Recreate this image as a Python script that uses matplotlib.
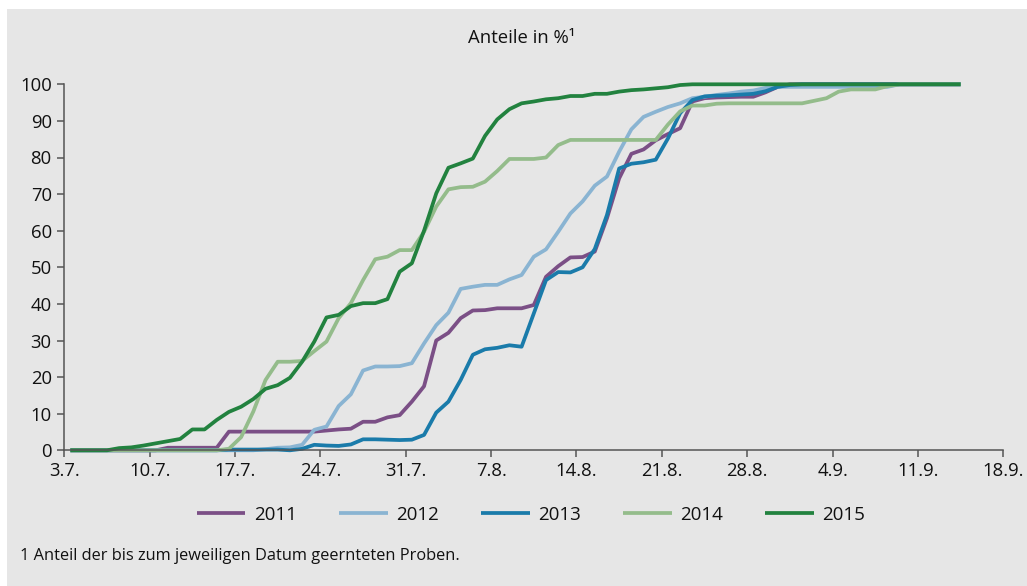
import numpy as np
import matplotlib
matplotlib.use("Agg")
import matplotlib.pyplot as plt
from matplotlib.patches import Rectangle

plt.rcParams['font.family'] = ['Open Sans', 'DejaVu Sans']

# ---- data (share of harvested samples, % ; daily from 3.7.) ----
days = np.arange(74)
tick_days = list(range(0, 78, 7))
tick_labels = ["3.7.", "10.7.", "17.7.", "24.7.", "31.7.", "7.8.", "14.8.",
               "21.8.", "28.8.", "4.9.", "11.9.", "18.9."]
years = ["2011", "2012", "2013", "2014", "2015"]

y2011 = [0, 0, 0, 0, 0, 0, 0, 0, 0.7, 0.7, 0.7, 0.7, 0.7, 5.1, 5.1, 5.1, 5.1, 5.1, 5.1, 5.1,
         5.1, 5.4, 5.7, 5.9, 7.8, 7.8, 9.0, 9.6, 13.3, 17.5, 30.0, 32.1, 36.1, 38.2, 38.3, 38.8,
         38.8, 38.8, 39.7, 47.4, 50.3, 52.7, 52.8, 54.3, 63.4, 74.3, 81.0, 82.2, 84.7, 86.4,
         88.0, 95.3, 96.2, 96.4, 96.5, 96.6, 96.6, 97.8, 99.3, 100, 100, 100, 100, 100, 100,
         100, 100, 100, 100, 100, 100, 100, 100, 100]
y2012 = [0, 0, 0, 0, 0, 0, 0, 0, 0, 0, 0, 0, 0, 0, 0, 0, 0.3, 0.7, 0.8, 1.5,
         5.6, 6.5, 12.1, 15.3, 21.8, 22.9, 22.9, 23.0, 23.8, 29.2, 34.2, 37.6, 44.1, 44.7, 45.2,
         45.2, 46.7, 47.9, 52.9, 54.9, 59.7, 64.7, 68.0, 72.3, 74.8, 81.6, 87.7, 91.1, 92.5,
         93.8, 94.8, 96.2, 96.6, 97.1, 97.5, 98.0, 98.3, 99.0, 99.3, 99.3, 99.3, 99.3, 99.3,
         99.3, 99.3, 99.3, 99.3, 99.3, 100, 100, 100, 100, 100, 100]
y2013 = [0, 0, 0, 0, 0, 0, 0, 0, 0, 0, 0, 0, 0, 0.2, 0.2, 0.2, 0.2, 0.2, 0, 0.4,
         1.5, 1.3, 1.2, 1.6, 3.0, 3.0, 2.9, 2.8, 2.9, 4.2, 10.3, 13.3, 19.2, 26.1, 27.6, 28.0,
         28.7, 28.3, 37.4, 46.5, 48.7, 48.6, 50.0, 55.0, 64.3, 77.0, 78.3, 78.7, 79.4, 85.2,
         92.1, 95.7, 96.7, 96.9, 97.0, 97.2, 97.4, 98.1, 99.3, 99.8, 100, 100, 100, 100, 100,
         100, 100, 100, 100, 100, 100, 100, 100, 100]
y2014 = [0, 0, 0, 0, 0, 0, 0, 0, 0, 0, 0, 0, 0, 0.4, 3.6, 10.6, 19.2, 24.2, 24.2, 24.4,
         27.1, 29.7, 36.1, 40.2, 46.5, 52.2, 52.9, 54.7, 54.7, 59.7, 66.6, 71.3, 71.9, 72.0,
         73.4, 76.3, 79.6, 79.6, 79.6, 80.0, 83.4, 84.8, 84.8, 84.8, 84.8, 84.8, 84.8, 84.8,
         84.8, 89.0, 92.6, 94.2, 94.2, 94.7, 94.8, 94.8, 94.8, 94.8, 94.8, 94.8, 94.8, 95.5,
         96.2, 98.0, 98.6, 98.6, 98.6, 99.5, 100, 100, 100, 100, 100, 100]
y2015 = [0, 0, 0, 0, 0.6, 0.8, 1.3, 1.9, 2.5, 3.1, 5.7, 5.7, 8.3, 10.5, 11.9, 14.0, 16.8,
         17.8, 19.8, 24.2, 29.7, 36.3, 37.0, 39.4, 40.2, 40.2, 41.3, 48.8, 51.1, 60.0, 70.2,
         77.2, 78.4, 79.7, 85.9, 90.4, 93.2, 94.8, 95.3, 95.9, 96.2, 96.8, 96.8, 97.4, 97.4,
         98.0, 98.4, 98.6, 98.9, 99.2, 99.8, 100, 100, 100, 100, 100, 100, 100, 100, 100, 100,
         100, 100, 100, 100, 100, 100, 100, 100, 100, 100, 100, 100, 100]

series = [y2011, y2012, y2013, y2014, y2015]
colors = ["#7B4F86", "#8AB4D2", "#1A7BAA", "#94BC8B", "#22823F"]

W, H = 1027, 586
fig = plt.figure(figsize=(W / 100, H / 100), dpi=100)
fig.patch.set_facecolor("white")
fig.patches.append(Rectangle((7 / W, 0), 1, 1 - 9 / H, transform=fig.transFigure,
                             facecolor="#E6E6E6", edgecolor="none", zorder=-10))

left, right = 64.3 / W, 1003.3 / W
bottom, top = 1 - 450.3 / H, 1 - 84.3 / H
ax = fig.add_axes([left, bottom, right - left, top - bottom])
ax.set_facecolor("none")

for yr, vals, c in zip(years, series, colors):
    ax.plot(days + 0.5, vals, color=c, lw=2.7, label=yr, clip_on=False,
            solid_joinstyle="round", solid_capstyle="butt")

ax.set_xlim(0, 77)
ax.set_ylim(0, 100)
ax.set_xticks(tick_days)
ax.set_xticklabels(tick_labels)
ax.set_yticks(range(0, 101, 10))
for s in ["top", "right"]:
    ax.spines[s].set_visible(False)
for s in ["left", "bottom"]:
    ax.spines[s].set_color("#555555")
    ax.spines[s].set_linewidth(1.1)
ax.tick_params(direction="out", length=5, width=1.1, color="#555555",
               labelsize=13.3, labelcolor="#111111")
ax.tick_params(axis="x", pad=3.5)
ax.tick_params(axis="y", pad=4)

fig.text(522 / W, 1 - 38 / H, "Anteile in %\u00b9", ha="center", va="center",
         fontsize=13.3, color="#111111")

fig.legend(loc="center", bbox_to_anchor=(531 / W, 1 - 515 / H), ncol=5, frameon=False,
           handlelength=2.6, handletextpad=0.45, columnspacing=2.25, fontsize=13.5,
           labelcolor="#111111")

fig.text(20 / W, 1 - 556 / H, "1 Anteil der bis zum jeweiligen Datum geernteten Proben.",
         ha="left", va="center", fontsize=11.8, color="#111111")

fig.savefig("out.png", dpi=100, facecolor=fig.get_facecolor())
